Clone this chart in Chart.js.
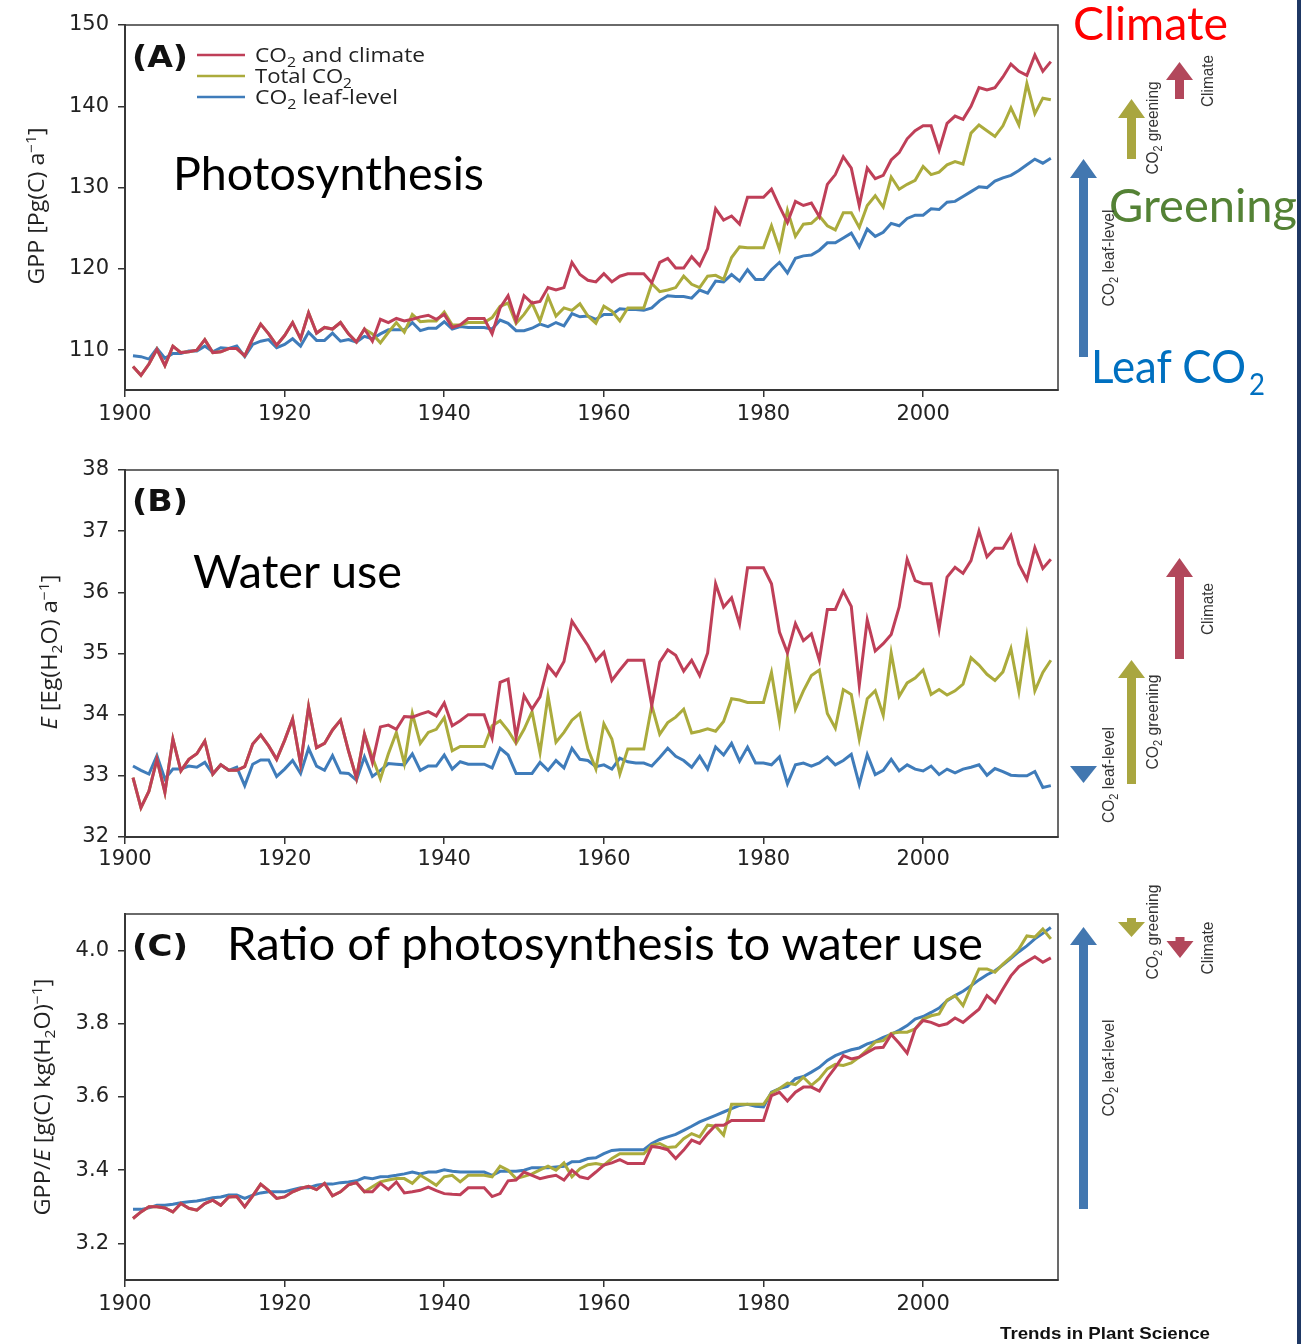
<!DOCTYPE html>
<html><head><meta charset="utf-8">
<script src="https://cdn.jsdelivr.net/npm/chart.js@4/dist/chart.umd.min.js"></script>
<style>
html,body{margin:0;padding:0;background:#fff;overflow:hidden;}
#wrap{position:relative;width:1301px;height:1344px;overflow:hidden;background:#fff;}
canvas{position:absolute;left:0;}
#ov{position:absolute;left:0;top:0;}
</style></head><body>
<div id="wrap">
<canvas id="cA" width="1060" height="440" style="top:0;width:1060px;height:440px"></canvas>
<canvas id="cB" width="1060" height="440" style="top:440px;width:1060px;height:440px"></canvas>
<canvas id="cC" width="1060" height="464" style="top:880px;width:1060px;height:464px"></canvas>
<svg id="ov" width="1301" height="1344" xmlns="http://www.w3.org/2000/svg">
<g id="arrows"></g>
<!-- panel letters -->
<g font-family="DejaVu Sans" font-weight="bold" font-size="31" fill="#111">
<text x="132" y="67" textLength="56" lengthAdjust="spacingAndGlyphs">(A)</text>
<text x="132" y="511" textLength="56" lengthAdjust="spacingAndGlyphs">(B)</text>
<text x="132" y="956" textLength="56" lengthAdjust="spacingAndGlyphs">(C)</text>
</g>
<!-- legend -->
<g stroke-width="2.5">
<line x1="197" x2="245" y1="55" y2="55" stroke="#bf3f58"/>
<line x1="197" x2="245" y1="76" y2="76" stroke="#abab3c"/>
<line x1="197" x2="245" y1="97" y2="97" stroke="#3f7cba"/>
</g>
<g font-family="Open Sans" font-size="20" fill="#222">
<text x="255" y="62" textLength="170" lengthAdjust="spacingAndGlyphs">CO<tspan dy="5" font-size="14">2</tspan><tspan dy="-5"> and climate</tspan></text>
<text x="255" y="83" textLength="97" lengthAdjust="spacingAndGlyphs">Total CO<tspan dy="5" font-size="14">2</tspan></text>
<text x="255" y="104" textLength="143" lengthAdjust="spacingAndGlyphs">CO<tspan dy="5" font-size="14">2</tspan><tspan dy="-5"> leaf-level</tspan></text>
</g>
<!-- axis titles -->
<g font-family="Open Sans" font-size="21" fill="#222" text-anchor="middle">
<text transform="translate(44,206) rotate(-90)" textLength="157" lengthAdjust="spacingAndGlyphs">GPP [Pg(C) a<tspan dy="-8" font-size="14">−1</tspan><tspan dy="8">]</tspan></text>
<text transform="translate(57,652) rotate(-90)" textLength="155" lengthAdjust="spacingAndGlyphs"><tspan font-style="italic">E</tspan> [Eg(H<tspan dy="5" font-size="14">2</tspan><tspan dy="-5">O) a</tspan><tspan dy="-8" font-size="14">−1</tspan><tspan dy="8">]</tspan></text>
<text transform="translate(50,1097) rotate(-90)" textLength="237" lengthAdjust="spacingAndGlyphs">GPP/<tspan font-style="italic">E</tspan> [g(C) kg(H<tspan dy="5" font-size="14">2</tspan><tspan dy="-5">O)</tspan><tspan dy="-8" font-size="14">−1</tspan><tspan dy="8">]</tspan></text>
</g>
<!-- annotations -->
<g font-family="Lato" font-size="46" fill="#000">
<text x="173" y="190" textLength="311" lengthAdjust="spacingAndGlyphs">Photosynthesis</text>
<text x="193" y="588" textLength="209" lengthAdjust="spacingAndGlyphs">Water use</text>
<text x="227" y="960" textLength="756" lengthAdjust="spacingAndGlyphs">Ratio of photosynthesis to water use</text>
<text x="1073" y="40" fill="#ff0000" textLength="155" lengthAdjust="spacingAndGlyphs">Climate</text>
<text x="1109" y="222" fill="#548235" textLength="188" lengthAdjust="spacingAndGlyphs">Greening</text>
<text x="1091" y="383" fill="#0070c0" textLength="155" lengthAdjust="spacingAndGlyphs">Leaf CO</text>
<text x="1249" y="395" fill="#0070c0" font-size="30" textLength="16" lengthAdjust="spacingAndGlyphs">2</text>
</g>
<!-- arrow labels -->
<g font-family="Liberation Sans Narrow, Liberation Sans" font-size="17" fill="#333" text-anchor="middle">
<text transform="translate(1114,258) rotate(-90)" textLength="97" lengthAdjust="spacingAndGlyphs">CO<tspan dy="4" font-size="12">2</tspan><tspan dy="-4"> leaf-level</tspan></text>
<text transform="translate(1158,128) rotate(-90)" textLength="93" lengthAdjust="spacingAndGlyphs">CO<tspan dy="4" font-size="12">2</tspan><tspan dy="-4"> greening</tspan></text>
<text transform="translate(1213,81) rotate(-90)" textLength="52" lengthAdjust="spacingAndGlyphs">Climate</text>
<text transform="translate(1114,775) rotate(-90)" textLength="96" lengthAdjust="spacingAndGlyphs">CO<tspan dy="4" font-size="12">2</tspan><tspan dy="-4"> leaf-level</tspan></text>
<text transform="translate(1158,722) rotate(-90)" textLength="95" lengthAdjust="spacingAndGlyphs">CO<tspan dy="4" font-size="12">2</tspan><tspan dy="-4"> greening</tspan></text>
<text transform="translate(1213,609) rotate(-90)" textLength="52" lengthAdjust="spacingAndGlyphs">Climate</text>
<text transform="translate(1114,1068) rotate(-90)" textLength="97" lengthAdjust="spacingAndGlyphs">CO<tspan dy="4" font-size="12">2</tspan><tspan dy="-4"> leaf-level</tspan></text>
<text transform="translate(1158,932) rotate(-90)" textLength="95" lengthAdjust="spacingAndGlyphs">CO<tspan dy="4" font-size="12">2</tspan><tspan dy="-4"> greening</tspan></text>
<text transform="translate(1213,948) rotate(-90)" textLength="53" lengthAdjust="spacingAndGlyphs">Climate</text>
</g>
<text x="1000" y="1339" font-family="Liberation Sans" font-weight="bold" font-size="17" fill="#111" textLength="210" lengthAdjust="spacingAndGlyphs">Trends in Plant Science</text>
<rect x="1297" y="0" width="4" height="1344" fill="#1f3864"/>
</svg>
</div>
<script>
// ---------------- data ----------------
const firstYear = 1901, lastYear = 2016;
const years = [];
for (let y = firstYear; y <= lastYear; y++) years.push(y);

const xTickValues = [1900, 1920, 1940, 1960, 1980, 2000];
const yTicksA = [110, 120, 130, 140, 150];
const yTicksB = [32, 33, 34, 35, 36, 37, 38];
const yTicksC = [3.2, 3.4, 3.6, 3.8, 4.0];

const seriesNames = ['CO2 and climate', 'Total CO2', 'CO2 leaf-level'];

// (A) GPP [Pg(C) a-1]
const gppClimate = [108.0,106.9,108.3,110.1,108.1,110.5,109.7,109.8,110.0,111.3,
  109.7,109.8,110.2,110.2,109.3,111.4,113.2,112.0,110.6,111.8,
  113.4,111.4,114.6,112.1,112.8,112.6,113.4,112.0,111.0,112.6,
  111.1,113.8,113.4,113.9,113.6,113.8,114.1,114.3,113.8,114.4,
  112.8,113.1,113.9,113.9,113.9,112.0,115.2,116.7,113.6,116.7,
  115.8,116.0,117.7,117.4,117.7,120.8,119.3,118.6,118.4,119.4,
  118.4,119.1,119.4,119.4,119.4,118.3,120.8,121.3,120.1,120.1,
  121.5,120.4,122.5,127.4,126.0,126.5,125.5,128.8,128.8,128.8,
  129.8,127.7,125.7,128.3,127.8,128.1,126.4,130.4,131.6,133.8,
  132.4,127.8,132.4,131.1,131.5,133.4,134.3,136.0,137.0,137.6,
  137.6,134.6,137.9,138.8,138.4,140.0,142.3,142.0,142.3,143.6,
  145.2,144.3,143.8,146.3,144.3,145.5];
const gppTotal = [108.0,106.9,108.3,110.1,108.1,110.5,109.7,109.8,110.0,111.3,
  109.7,109.8,110.2,110.2,109.3,111.4,113.2,112.0,110.6,111.8,
  113.4,111.4,114.6,112.1,112.8,112.6,113.4,112.0,111.0,112.6,
  112.0,110.9,112.2,113.4,112.2,114.4,113.5,113.6,113.6,114.7,
  113.1,113.1,113.4,113.4,113.4,114.0,115.4,115.8,113.3,114.4,
  115.8,113.6,116.6,114.2,115.2,114.9,115.7,114.2,113.3,115.4,
  114.8,113.6,115.2,115.2,115.2,118.2,117.2,117.4,117.7,119.1,
  118.1,117.7,119.1,119.2,118.7,121.4,122.7,122.6,122.6,122.6,
  125.3,122.4,127.2,124.0,125.5,125.6,126.5,125.3,124.8,126.9,
  126.9,125.1,127.8,129.0,127.6,131.3,129.8,130.4,130.9,132.6,
  131.6,131.9,132.8,133.2,132.9,136.7,137.7,137.0,136.3,137.6,
  139.8,137.7,142.8,139.1,141.0,140.8];
const gppLeaf = [109.3,109.2,108.9,110.2,109.0,109.6,109.6,109.9,109.9,110.5,
  109.8,110.3,110.2,110.5,109.2,110.7,111.1,111.3,110.3,110.7,
  111.4,110.5,112.2,111.2,111.2,112.1,111.1,111.3,111.0,111.7,
  111.4,112.0,112.5,112.5,112.5,113.4,112.4,112.7,112.7,113.5,
  112.6,112.9,112.8,112.8,112.8,112.6,113.7,113.3,112.4,112.4,
  112.7,113.2,112.9,113.4,113.0,114.5,114.1,114.2,113.8,114.4,
  114.4,115.1,115.0,115.0,114.9,115.2,116.1,116.7,116.6,116.6,
  116.4,117.4,117.0,118.5,118.4,119.3,118.5,119.9,118.7,118.7,
  119.9,120.8,119.5,121.3,121.6,121.7,122.3,123.2,123.2,123.8,
  124.4,122.7,124.9,124.0,124.5,125.6,125.3,126.2,126.6,126.6,
  127.4,127.3,128.2,128.3,128.9,129.5,130.1,130.0,130.8,131.2,
  131.5,132.1,132.8,133.5,133.0,133.6];

// (B) E [Eg(H2O) a-1]
const eClimate = [32.97,32.48,32.75,33.27,32.73,33.60,33.08,33.27,33.36,33.57,
  33.03,33.18,33.09,33.09,33.15,33.52,33.67,33.49,33.27,33.58,
  33.93,33.19,34.13,33.46,33.53,33.75,33.91,33.41,32.96,33.68,
  33.22,33.80,33.83,33.76,33.97,33.96,34.01,34.05,33.98,34.19,
  33.82,33.90,34.00,34.00,34.00,33.62,34.53,34.58,33.63,34.31,
  34.09,34.29,34.80,34.64,34.87,35.53,35.33,35.13,34.88,35.02,
  34.56,34.73,34.89,34.89,34.89,34.15,34.86,35.06,34.97,34.71,
  34.89,34.64,35.01,36.14,35.76,35.91,35.48,36.40,36.40,36.40,
  36.14,35.35,35.01,35.49,35.21,35.32,34.89,35.72,35.72,36.02,
  35.77,34.48,35.55,35.04,35.16,35.31,35.76,36.54,36.19,36.14,
  36.14,35.40,36.25,36.41,36.31,36.52,37.00,36.58,36.72,36.72,
  36.93,36.46,36.21,36.73,36.39,36.54];
const eTotal = [32.97,32.48,32.75,33.27,32.73,33.60,33.08,33.27,33.36,33.57,
  33.03,33.18,33.09,33.09,33.15,33.52,33.67,33.49,33.27,33.58,
  33.93,33.19,34.13,33.46,33.53,33.75,33.91,33.41,32.96,33.68,
  33.30,32.95,33.36,33.71,33.20,34.02,33.53,33.71,33.76,33.95,
  33.41,33.48,33.48,33.48,33.48,33.82,33.90,33.74,33.53,33.76,
  34.05,33.38,34.31,33.55,33.71,33.91,34.02,33.44,33.11,33.85,
  33.60,33.03,33.44,33.44,33.44,34.15,33.68,33.87,33.96,34.09,
  33.70,33.73,33.77,33.73,33.89,34.26,34.24,34.20,34.20,34.20,
  34.69,33.89,34.93,34.09,34.39,34.64,34.73,34.02,33.78,34.41,
  34.33,33.60,34.26,34.39,33.99,35.01,34.30,34.52,34.60,34.73,
  34.33,34.41,34.32,34.39,34.50,34.93,34.81,34.66,34.56,34.70,
  35.08,34.38,35.28,34.39,34.69,34.89];
const eLeaf = [33.16,33.09,33.03,33.33,32.95,33.11,33.11,33.16,33.14,33.22,
  33.03,33.18,33.09,33.14,32.84,33.19,33.26,33.26,32.99,33.11,
  33.25,33.04,33.45,33.16,33.09,33.33,33.05,33.04,32.93,33.31,
  32.99,33.09,33.20,33.19,33.18,33.36,33.09,33.16,33.16,33.34,
  33.11,33.23,33.19,33.19,33.19,33.13,33.45,33.34,33.04,33.04,
  33.04,33.22,33.09,33.25,33.13,33.45,33.27,33.25,33.15,33.18,
  33.11,33.29,33.23,33.21,33.21,33.16,33.30,33.45,33.32,33.25,
  33.14,33.32,33.11,33.47,33.34,33.53,33.24,33.47,33.21,33.21,
  33.18,33.31,32.87,33.18,33.21,33.16,33.21,33.31,33.18,33.25,
  33.35,32.86,33.35,33.02,33.09,33.27,33.08,33.18,33.11,33.08,
  33.16,33.02,33.11,33.05,33.11,33.14,33.18,33.01,33.12,33.07,
  33.01,33.00,33.00,33.07,32.81,32.84];

// (C) GPP/E [g(C) kg(H2O)-1]
const wueClimate = [3.268,3.286,3.300,3.300,3.297,3.286,3.309,3.296,3.291,3.309,
  3.318,3.304,3.327,3.328,3.300,3.330,3.362,3.344,3.323,3.327,
  3.341,3.350,3.356,3.347,3.364,3.330,3.341,3.360,3.366,3.341,
  3.341,3.364,3.347,3.368,3.338,3.341,3.345,3.354,3.344,3.336,
  3.334,3.333,3.352,3.352,3.352,3.328,3.336,3.371,3.373,3.395,
  3.386,3.377,3.382,3.386,3.373,3.400,3.382,3.377,3.395,3.414,
  3.420,3.429,3.418,3.418,3.418,3.465,3.462,3.456,3.432,3.455,
  3.482,3.473,3.500,3.523,3.523,3.536,3.536,3.536,3.536,3.536,
  3.604,3.613,3.589,3.613,3.627,3.627,3.616,3.652,3.681,3.713,
  3.704,3.709,3.722,3.734,3.736,3.771,3.747,3.720,3.786,3.809,
  3.804,3.795,3.800,3.816,3.804,3.822,3.840,3.877,3.858,3.895,
  3.931,3.956,3.970,3.983,3.968,3.980];
const wueTotal = [3.268,3.286,3.300,3.300,3.297,3.286,3.309,3.296,3.291,3.309,
  3.318,3.304,3.327,3.328,3.300,3.330,3.362,3.344,3.323,3.327,
  3.341,3.350,3.356,3.347,3.364,3.330,3.341,3.360,3.366,3.341,
  3.355,3.368,3.373,3.377,3.377,3.364,3.386,3.373,3.359,3.382,
  3.386,3.368,3.386,3.386,3.386,3.382,3.411,3.400,3.377,3.383,
  3.390,3.401,3.411,3.400,3.420,3.382,3.404,3.415,3.418,3.414,
  3.432,3.445,3.445,3.445,3.445,3.468,3.473,3.462,3.464,3.486,
  3.500,3.491,3.523,3.520,3.496,3.580,3.580,3.580,3.580,3.580,
  3.611,3.623,3.638,3.634,3.654,3.632,3.650,3.677,3.689,3.686,
  3.693,3.709,3.729,3.750,3.754,3.774,3.777,3.777,3.786,3.813,
  3.822,3.827,3.865,3.877,3.850,3.901,3.950,3.950,3.941,3.963,
  3.982,4.004,4.040,4.037,4.059,4.032];
const wueLeaf = [3.293,3.293,3.297,3.304,3.304,3.307,3.311,3.314,3.316,3.320,
  3.325,3.327,3.332,3.332,3.323,3.332,3.338,3.341,3.341,3.341,
  3.347,3.352,3.352,3.359,3.362,3.362,3.366,3.368,3.371,3.380,
  3.377,3.382,3.383,3.386,3.390,3.395,3.390,3.395,3.395,3.401,
  3.397,3.395,3.395,3.395,3.395,3.386,3.397,3.397,3.397,3.400,
  3.407,3.407,3.407,3.409,3.411,3.423,3.424,3.432,3.434,3.445,
  3.454,3.456,3.456,3.456,3.456,3.473,3.484,3.491,3.498,3.509,
  3.520,3.532,3.541,3.550,3.559,3.568,3.577,3.580,3.575,3.573,
  3.613,3.623,3.629,3.650,3.656,3.668,3.681,3.700,3.713,3.722,
  3.729,3.734,3.745,3.752,3.763,3.771,3.782,3.795,3.813,3.820,
  3.831,3.843,3.863,3.877,3.889,3.904,3.920,3.934,3.945,3.961,
  3.979,3.997,4.013,4.032,4.047,4.063];

// ---------------- styling ----------------
const colors = ['#bf3f58', '#abab3c', '#3f7cba'];
Chart.defaults.font.family = "'DejaVu Sans', sans-serif";

const framePlugin = {
  id: 'frame',
  afterDraw(c) {
    const {left, top, right, bottom} = c.chartArea;
    const ctx = c.ctx;
    ctx.save();
    ctx.strokeStyle = '#3a3a3a';
    ctx.lineWidth = 1.5;
    ctx.strokeRect(left, top, right - left, bottom - top);
    ctx.restore();
  }
};

function makeChart(id, seriesList, yMin, yMax, yTicks, yFmt, padTop, xAxisH, xPad) {
  const datasets = seriesList.map((vals, i) => ({
    label: seriesNames[i],
    data: years.map((yr, k) => ({x: yr, y: vals[k]})),
    borderColor: colors[i],
    borderWidth: 3,
    pointRadius: 0,
    tension: 0,
    fill: false
  }));
  const axisCommon = {
    grid: {display: true, drawOnChartArea: false, drawTicks: true, tickLength: 7, color: '#333', lineWidth: 1.5},
    border: {display: true, color: '#333', width: 2}
  };
  return new Chart(document.getElementById(id), {
    type: 'line',
    data: {datasets},
    options: {
      responsive: false, animation: false, devicePixelRatio: 1,
      layout: {padding: {top: padTop, right: 2, left: 0, bottom: 0}},
      plugins: {legend: {display: false}, tooltip: {enabled: false}},
      scales: {
        x: Object.assign({
          type: 'linear', min: 1900, max: 2016.9,
          afterBuildTicks: s => { s.ticks = xTickValues.map(v => ({value: v})); },
          afterFit: s => { s.height = xAxisH; },
          ticks: {font: {size: 21}, color: '#222', padding: xPad, maxRotation: 0, autoSkip: false,
                  callback: v => String(v)}
        }, axisCommon),
        y: Object.assign({
          type: 'linear', min: yMin, max: yMax,
          afterBuildTicks: s => { s.ticks = yTicks.map(v => ({value: v})); },
          afterFit: s => { s.width = 125; },
          ticks: {font: {size: 21}, color: '#222', padding: 9, callback: yFmt}
        }, axisCommon)
      }
    },
    plugins: [framePlugin]
  });
}

makeChart('cA', [gppClimate, gppTotal, gppLeaf], 105.1, 150, yTicksA, v => String(v), 25, 50, 5);
makeChart('cB', [eClimate, eTotal, eLeaf], 32, 38, yTicksB, v => String(v), 30, 43, 3);
makeChart('cC', [wueClimate, wueTotal, wueLeaf], 3.1, 4.1, yTicksC, v => v.toFixed(1), 34, 64, 5);

// ---------------- side arrows (decoration) ----------------
const arrowDefs = [
  // cx, tail, tip, headLen, color
  [1083.5, 357, 159, 19, '#4277b0'],
  [1131.5, 159, 99, 19, '#a9a640'],
  [1179.5, 99, 62, 18, '#b2475b'],
  [1083.5, 766, 783, 17, '#4277b0'],
  [1131.5, 784, 660, 18, '#a9a640'],
  [1179.5, 659, 558, 19, '#b2475b'],
  [1083.5, 1209, 927, 18, '#4277b0'],
  [1131.5, 918, 937, 15, '#a9a640'],
  [1180, 937, 958, 17, '#b2475b']
];
const g = document.getElementById('arrows');
arrowDefs.forEach(([cx, tail, tip, hl, col]) => {
  const sw = 9, hw = 27;
  const s = tail > tip ? 1 : -1;
  const base = tip + s * hl;
  const pts = [[cx - sw/2, tail], [cx - sw/2, base], [cx - hw/2, base], [cx, tip],
               [cx + hw/2, base], [cx + sw/2, base], [cx + sw/2, tail]];
  const p = document.createElementNS('http://www.w3.org/2000/svg', 'polygon');
  p.setAttribute('points', pts.map(q => q.join(',')).join(' '));
  p.setAttribute('fill', col);
  g.appendChild(p);
});
</script>
</body></html>
